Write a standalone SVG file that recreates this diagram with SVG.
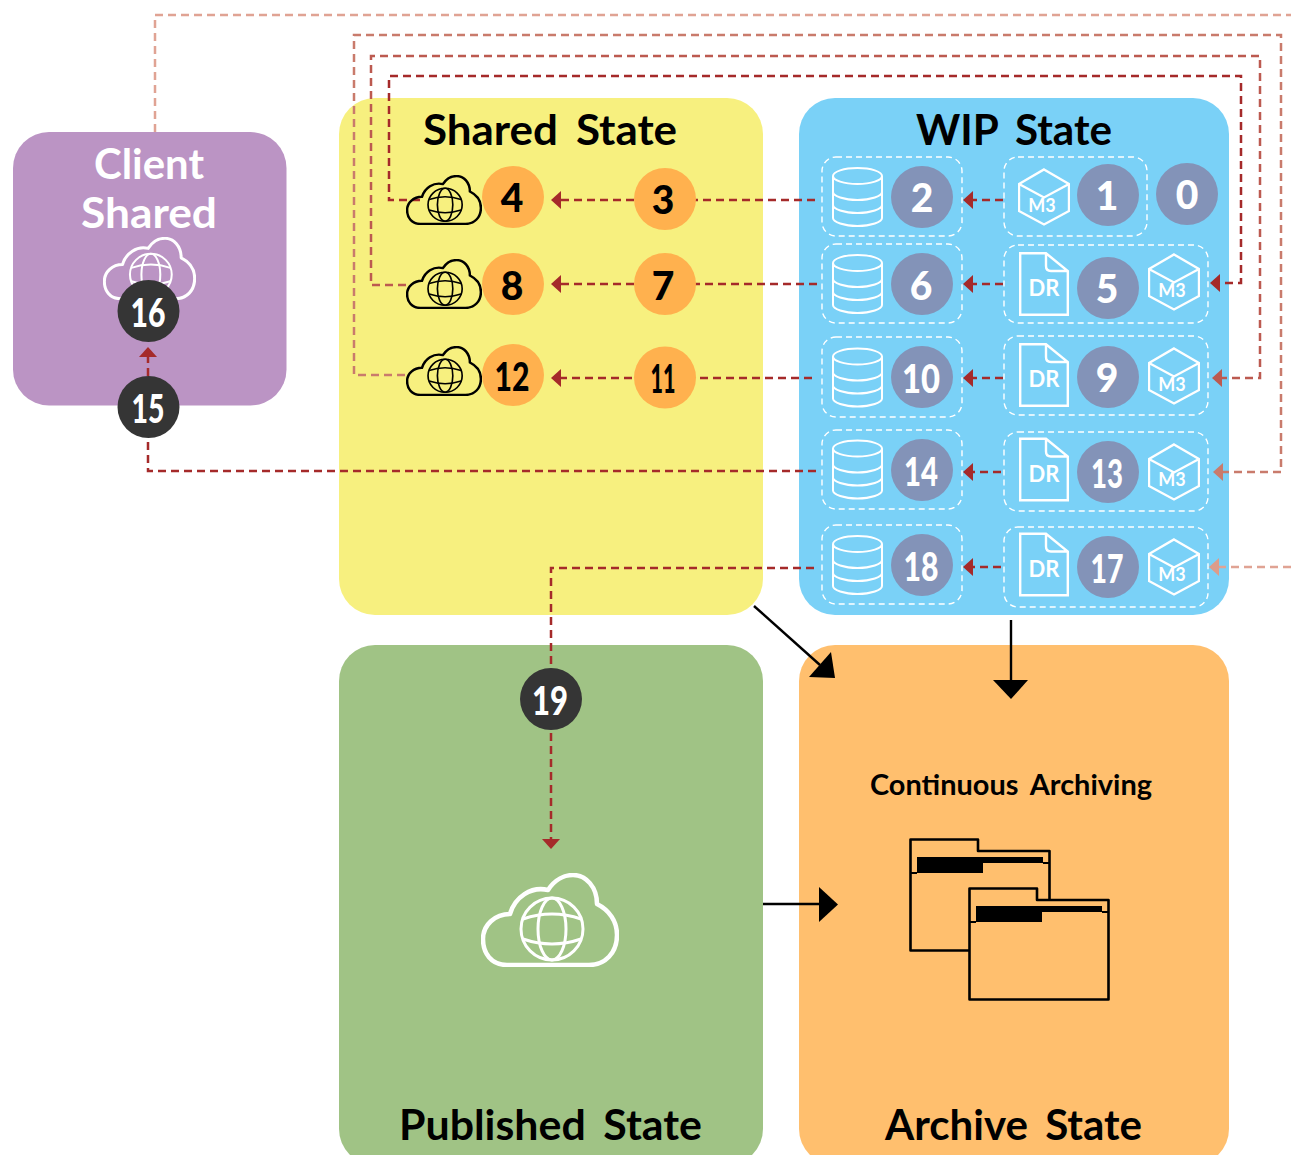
<svg xmlns="http://www.w3.org/2000/svg" width="1291" height="1155" viewBox="0 0 1291 1155">
<style>
text{font-family:"Lato","Open Sans","DejaVu Sans",sans-serif}
.title{font-size:42px;font-weight:700;fill:#000;text-anchor:middle;word-spacing:7px}
.n{font-size:39px;font-weight:900;text-anchor:middle}
.w{fill:#fff}.k{fill:#000}
.m3{font-size:18px;font-weight:700;fill:#fff;text-anchor:middle}
.dr{font-size:22px;font-weight:700;fill:#fff;text-anchor:middle}
.box{fill:none;stroke:#fff;stroke-width:1.4;stroke-dasharray:6 4}
.ic{fill:none;stroke:#fff}
.ck{fill:none;stroke:#000}
.co{fill:#FFB14E}.cs{fill:#8393B8}.cd{fill:#353535}
.l{fill:none;stroke-width:2.500;stroke-dasharray:8 5}
.a{stroke:#A52A2A}.b{stroke:#BC5A50}.c{stroke:#C97B6C}.d{stroke:#E0A394}
.bl{fill:none;stroke:#000;stroke-width:2.400}
</style>
<defs>
<marker id="ha" markerUnits="userSpaceOnUse" markerWidth="12" markerHeight="20" refX="0" refY="9" orient="auto"><path d="M0 0L10 9L0 18Z" fill="#A52A2A"/></marker>
<marker id="hb" markerUnits="userSpaceOnUse" markerWidth="12" markerHeight="20" refX="0" refY="9" orient="auto"><path d="M0 0L10 9L0 18Z" fill="#BC5A50"/></marker>
<marker id="hc" markerUnits="userSpaceOnUse" markerWidth="12" markerHeight="20" refX="0" refY="9" orient="auto"><path d="M0 0L10 9L0 18Z" fill="#C97B6C"/></marker>
<marker id="hd" markerUnits="userSpaceOnUse" markerWidth="12" markerHeight="20" refX="0" refY="9" orient="auto"><path d="M0 0L10 9L0 18Z" fill="#DD9C8A"/></marker>
<symbol id="cloud" viewBox="0 0 138 94" preserveAspectRatio="none">
<path d="M26 92C10 92 2 80 2 66C2 52 14 41 29 41C34 24 50 13 67 17C74 6 84 2 92 2C105 2 116 14 116 31C128 37 136 48 136 62C136 80 124 92 108 92Z" stroke-width="4.500" stroke-linejoin="round"/>
<g stroke-width="3"><circle cx="71" cy="56" r="31"/><ellipse cx="71" cy="56" rx="14" ry="31"/><path d="M42 46Q71 36 100 46M42 66Q71 76 100 66"/></g>
</symbol>
<symbol id="db" viewBox="0 0 51 60">
<g stroke-width="2"><ellipse cx="25.5" cy="9" rx="24.5" ry="8"/><path d="M1 9V51C1 55 12 59 25.500 59C39 59 50 55 50 51V9M1 25C1 29 12 33 25.500 33C39 33 50 29 50 25M1 38C1 42 12 46 25.500 46C39 46 50 42 50 38"/></g>
</symbol>
<symbol id="cube" viewBox="0 0 52 58">
<path d="M26 1.500L51 16V43L26 56.500L1 43V16ZM1 16L26 29.500L51 16" stroke-width="2.400" stroke-linejoin="miter"/>
</symbol>
<symbol id="doc" viewBox="0 0 50 64">
<path d="M1.200 1.200H27L48.800 19V62.800H1.200ZM27 1.200V14Q27 19 32 19H48.800" stroke-width="2.400"/>
</symbol>
<symbol id="folder" viewBox="0 0 142 114">
<path d="M1.500 1.500H69V13H140.500V112.500H1.500Z" fill="#FFBF6E" stroke="#000" stroke-width="2.600" stroke-linejoin="round"/>
<path d="M8 19H134V25H74V35H8Z" fill="#000"/><path d="M1.500 35H8M134 25H140.500" stroke="#000" stroke-width="2"/>
</symbol>
</defs>

<g id="panels">
<g id="panel-shared"><rect x="339" y="98" width="424" height="517" rx="36" fill="#F7F07F"/></g>
<g id="panel-wip"><rect x="799" y="98" width="430" height="517" rx="36" fill="#7AD1F7"/></g>
<g id="panel-published"><rect x="339" y="645" width="424" height="520" rx="36" fill="#A0C385"/></g>
<g id="panel-archive"><rect x="799" y="645" width="430" height="520" rx="36" fill="#FFBF6E"/></g>
<g id="panel-client"><rect x="13" y="132" width="273.500" height="273.500" rx="36" fill="#BB94C4"/></g>
</g>

<g id="connectors">
<path class="l d" d="M155 132V15H1291"/>
<path class="l c" d="M405 375H354V35H1281V472H1223" marker-end="url(#hc)"/>
<path class="l b" d="M406 285H371V56H1260V378H1222" marker-end="url(#hb)"/>
<path class="l a" d="M420 200H389V76H1241V283H1220" marker-end="url(#ha)"/>
<path class="l d" d="M1291 567H1219" marker-end="url(#hd)"/>
<path class="l a" d="M815 200H695"/><path class="l a" d="M634 200H561" marker-end="url(#ha)"/>
<path class="l a" d="M817 284H695"/><path class="l a" d="M634 284H561" marker-end="url(#ha)"/>
<path class="l a" d="M812 378H699"/><path class="l a" d="M632 378H561" marker-end="url(#ha)"/>
<path class="l a" d="M1003 200H973" marker-end="url(#ha)"/>
<path class="l a" d="M1003 284H973" marker-end="url(#ha)"/>
<path class="l a" d="M1003 378H973" marker-end="url(#ha)"/>
<path class="l a" d="M1001 472H973" marker-end="url(#ha)"/>
<path class="l a" d="M1001 567H973" marker-end="url(#ha)"/>
<path class="l a" d="M816 471H148V440"/>
<path class="l a" d="M148 376V357" marker-end="url(#ha)"/>
<path class="l a" d="M814 568H551V668"/>
<path class="l a" d="M551 733V839" marker-end="url(#ha)"/>
<path class="bl" d="M754 606L820 665"/><path d="M835 678L809 677L831 652Z"/>
<path class="bl" d="M1011 620V682"/><path d="M993 680H1028L1011 699Z"/>
<path class="bl" d="M763 904H821"/><path d="M819 887L838 904.500L819 922Z"/>
</g>

<g id="titles">
<text class="title" x="550" y="145" textLength="254" lengthAdjust="spacingAndGlyphs">Shared State</text>
<text class="title" x="1014" y="145" textLength="196" lengthAdjust="spacingAndGlyphs">WIP State</text>
<text class="title" style="fill:#fff" x="149" y="179" textLength="110" lengthAdjust="spacingAndGlyphs">Client</text>
<text class="title" style="fill:#fff" x="149" y="228" textLength="136" lengthAdjust="spacingAndGlyphs">Shared</text>
<text class="title" x="550.500" y="1140" textLength="303" lengthAdjust="spacingAndGlyphs">Published State</text>
<text class="title" x="1013.500" y="1140" textLength="257" lengthAdjust="spacingAndGlyphs">Archive State</text>
<text x="1011" y="795" font-size="28" font-weight="700" text-anchor="middle" word-spacing="5" textLength="282" lengthAdjust="spacingAndGlyphs">Continuous Archiving</text>
</g>

<g id="node-0"><circle class="cs" cx="1187" cy="194" r="31"/><text class="n w" x="1187" y="209">0</text></g>
<g id="node-1"><rect class="box" x="1004" y="157" width="143" height="79" rx="14"/><use href="#cube" class="ic" x="1018" y="168" width="52" height="58"/><text class="m3" x="1042" y="212">M3</text><circle class="cs" cx="1108" cy="195" r="31"/><text class="n w" x="1107" y="210">1</text></g>
<g id="node-2"><rect class="box" x="822" y="157" width="140" height="79" rx="14"/><use href="#db" class="ic" x="832" y="167" width="51" height="60"/><circle class="cs" cx="922" cy="197" r="31"/><text class="n w" x="922" y="212">2</text></g>
<g id="node-3"><circle class="co" cx="665" cy="199" r="31"/><text class="n k" x="663" y="214">3</text></g>
<g id="node-4"><use href="#cloud" class="ck" x="406" y="175" width="76" height="50"/><circle class="co" cx="513" cy="197" r="31"/><text class="n k" x="512" y="212">4</text></g>
<g id="node-5"><rect class="box" x="1004" y="245" width="204" height="78" rx="14"/><use href="#doc" class="ic" x="1019" y="252" width="50" height="64"/><text class="dr" x="1044" y="296">DR</text><circle class="cs" cx="1108" cy="288" r="31"/><text class="n w" x="1107" y="303">5</text><use href="#cube" class="ic" x="1148" y="253" width="52" height="58"/><text class="m3" x="1172" y="297">M3</text></g>
<g id="node-6"><rect class="box" x="822" y="244" width="140" height="79" rx="14"/><use href="#db" class="ic" x="832" y="254" width="51" height="60"/><circle class="cs" cx="922" cy="284" r="31"/><text class="n w" x="921" y="300">6</text></g>
<g id="node-7"><circle class="co" cx="665" cy="284" r="31"/><text class="n k" x="663" y="300">7</text></g>
<g id="node-8"><use href="#cloud" class="ck" x="406" y="259" width="76" height="50"/><circle class="co" cx="513" cy="284" r="31"/><text class="n k" x="512" y="300">8</text></g>
<g id="node-9"><rect class="box" x="1004" y="336" width="204" height="79" rx="14"/><use href="#doc" class="ic" x="1019" y="343" width="50" height="64"/><text class="dr" x="1044" y="387">DR</text><circle class="cs" cx="1108" cy="377" r="31"/><text class="n w" x="1107" y="392">9</text><use href="#cube" class="ic" x="1148" y="347" width="52" height="58"/><text class="m3" x="1172" y="391">M3</text></g>
<g id="node-10"><rect class="box" x="822" y="337" width="140" height="80" rx="14"/><use href="#db" class="ic" x="832" y="347" width="51" height="61"/><circle class="cs" cx="922" cy="377" r="31"/><text class="n w" x="921" y="393" textLength="38" lengthAdjust="spacingAndGlyphs">10</text></g>
<g id="node-11"><circle class="co" cx="665" cy="377.500" r="31"/><text class="n k" x="663" y="393" textLength="25" lengthAdjust="spacingAndGlyphs">11</text></g>
<g id="node-12"><use href="#cloud" class="ck" x="406" y="346" width="76" height="50"/><circle class="co" cx="513" cy="375" r="31"/><text class="n k" x="512" y="391" textLength="35" lengthAdjust="spacingAndGlyphs">12</text></g>
<g id="node-13"><rect class="box" x="1004" y="432" width="204" height="79" rx="14"/><use href="#doc" class="ic" x="1019" y="437" width="50" height="65"/><text class="dr" x="1044" y="482">DR</text><circle class="cs" cx="1108" cy="472" r="31"/><text class="n w" x="1107" y="488" textLength="32" lengthAdjust="spacingAndGlyphs">13</text><use href="#cube" class="ic" x="1148" y="443" width="52" height="58"/><text class="m3" x="1172" y="486">M3</text></g>
<g id="node-14"><rect class="box" x="822" y="430" width="140" height="79" rx="14"/><use href="#db" class="ic" x="832" y="439" width="51" height="61"/><circle class="cs" cx="922" cy="470" r="31"/><text class="n w" x="921" y="486" textLength="34" lengthAdjust="spacingAndGlyphs">14</text></g>
<g id="node-15"><circle class="cd" cx="148.500" cy="407" r="31"/><text class="n w" x="148" y="423" textLength="33" lengthAdjust="spacingAndGlyphs">15</text></g>
<g id="node-16"><use href="#cloud" class="ic" x="103" y="237" width="93" height="63"/><circle class="cd" cx="148.500" cy="311" r="31"/><text class="n w" x="148" y="327" textLength="35" lengthAdjust="spacingAndGlyphs">16</text></g>
<g id="node-17"><rect class="box" x="1004" y="527" width="204" height="80" rx="14"/><use href="#doc" class="ic" x="1019" y="532" width="50" height="65"/><text class="dr" x="1044" y="577">DR</text><circle class="cs" cx="1108" cy="567" r="31"/><text class="n w" x="1107" y="583" textLength="33" lengthAdjust="spacingAndGlyphs">17</text><use href="#cube" class="ic" x="1148" y="538" width="52" height="58"/><text class="m3" x="1172" y="581">M3</text></g>
<g id="node-18"><rect class="box" x="822" y="525" width="140" height="79" rx="14"/><use href="#db" class="ic" x="832" y="535" width="51" height="60"/><circle class="cs" cx="922" cy="565" r="31"/><text class="n w" x="921" y="581" textLength="35" lengthAdjust="spacingAndGlyphs">18</text></g>
<g id="node-19"><circle class="cd" cx="551" cy="699" r="31"/><text class="n w" x="550" y="715" textLength="36" lengthAdjust="spacingAndGlyphs">19</text></g>
<g id="node-published-cloud"><use href="#cloud" class="ic" x="481" y="873" width="138" height="94"/></g>
<g id="node-archive-folders"><use href="#folder" x="909" y="838" width="142" height="114"/><use href="#folder" x="968" y="887" width="142" height="114"/></g>
</svg>
